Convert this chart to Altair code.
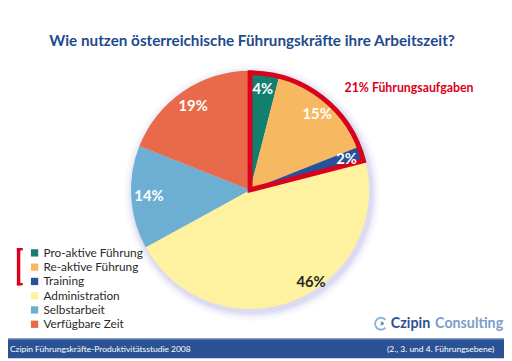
import math
import altair as alt
import pandas as pd

categories = ["Pro-aktive Führung", "Re-aktive Führung", "Training",
              "Administration", "Selbstarbeit", "Verfügbare Zeit"]
values = [4, 15, 2, 46, 14, 19]
labels = ["4%", "15%", "2%", "46%", "14%", "19%"]
colors = ["#12806f", "#f7b862", "#27519b", "#fef2a0", "#6cafd2", "#e96a4b"]

group_name = ["Führungsaufgaben"]
group_value = [21]

title_text = "Wie nutzen österreichische Führungskräfte ihre Arbeitszeit?"
group_label = "21% Führungsaufgaben"
footer_left = "Czipin Führungskräfte-Produktivitätsstudie 2008"
footer_right = "(2., 3. und 4. Führungsebene)"

W, H = 504, 353
CX, CY = 246, 182
R = 121
FONT = "Lato"

df = pd.DataFrame({"cat": categories, "value": values, "label": labels,
                   "idx": list(range(len(categories)))})
gdf = pd.DataFrame({"grp": group_name, "value": group_value, "idx": [0]})
one = pd.DataFrame({"k": [0]})

theta = alt.Theta("value:Q", stack=True)
order = alt.Order("idx:O", sort="ascending")

base = alt.Chart(df)

# soft shadow
shadows = []
for rr, op in [(130, 0.06), (127, 0.08), (125, 0.1), (123, 0.14)]:
    shadows.append(
        alt.Chart(one).mark_arc(theta=0, theta2=2 * math.pi, outerRadius=rr,
                                color="#9d98d6", opacity=op)
        .encode(x=alt.value(CX + 2), y=alt.value(CY + 3))
    )

pie = base.mark_arc(outerRadius=R).encode(
    theta=theta,
    order=order,
    color=alt.Color("cat:N", scale=alt.Scale(domain=categories, range=colors),
                    legend=alt.Legend(orient="none", legendX=21, legendY=240,
                                      title=None, symbolType="square",
                                      symbolSize=55, symbolStrokeWidth=0,
                                      symbolOpacity=1,
                                      labelFont=FONT, labelFontSize=12,
                                      labelColor="#2a2a2a", rowPadding=2.5,
                                      labelOffset=3)),
    x=alt.value(CX), y=alt.value(CY),
)

outline = alt.Chart(gdf).mark_arc(outerRadius=R - 2, filled=False, fillOpacity=0,
                                  stroke="#d9021c", strokeWidth=5,
                                  strokeJoin="miter").encode(
    theta=theta, order=order, x=alt.value(CX), y=alt.value(CY)
)

txt_common = dict(font=FONT, fontSize=15, fontWeight="bold")


def pie_labels(cond, **kw):
    return (
        base.transform_stack(stack="value", groupby=[], as_=["v0", "v1"],
                             sort=[alt.SortField("idx", order="ascending")])
        .transform_calculate(mid="(datum.v0 + datum.v1) / 2")
        .transform_filter(cond)
        .mark_text(radius=103, **txt_common, **kw)
        .encode(theta=alt.Theta("mid:Q", scale=alt.Scale(domain=[0, 100])),
                text="label:N", x=alt.value(CX), y=alt.value(CY))
    )


txt = pie_labels("datum.idx != 3", color="white")
txt_big = pie_labels("datum.idx == 3", dx=24, dy=-2, color="#262626")


def label(text, x, y, size, color, weight="normal", align="center", font=FONT):
    return alt.Chart(one).mark_text(text=text, font=font, fontSize=size,
                                    fontWeight=weight, color=color, align=align,
                                    baseline="middle").encode(
        x=alt.value(x), y=alt.value(y))


title = label(title_text, 248, 31, 15.5, "#1f4a8e", "bold")
glabel = label(group_label, 342, 78, 12.5, "#d9021c", "bold", "left")

bracket = [
    alt.Chart(one).mark_rule(color="#d9021c", strokeWidth=3.5).encode(
        x=alt.value(10.75), y=alt.value(241), y2=alt.value(279)),
    alt.Chart(one).mark_rule(color="#d9021c", strokeWidth=2.5).encode(
        x=alt.value(9), x2=alt.value(15), y=alt.value(242.25)),
    alt.Chart(one).mark_rule(color="#d9021c", strokeWidth=2.5).encode(
        x=alt.value(9), x2=alt.value(15), y=alt.value(277.75)),
]

band = alt.Chart(one).mark_rect(color="#2b5294").encode(
    x=alt.value(-8), x2=alt.value(W), y=alt.value(333), y2=alt.value(H))
band_line = alt.Chart(one).mark_rule(color="#7f9bcb", strokeWidth=1).encode(
    x=alt.value(-8), x2=alt.value(W), y=alt.value(333.5))
fl = label(footer_left, 2, 343.5, 8.6, "white", align="left")
fr = label(footer_right, 494, 343.5, 8.6, "white", align="right")

logo_ring = alt.Chart(one).mark_arc(theta=2.3, theta2=2 * math.pi + 0.85,
                                    innerRadius=5, outerRadius=7,
                                    color="#8fb3d9").encode(
    x=alt.value(379), y=alt.value(318))
logo_arrow = label("»", 380, 317.5, 9, "#2b5294", "bold")
logo_a = label("Czipin", 389, 318, 14.5, "#2b5294", "bold", "left")
logo_b = label("Consulting", 434, 318, 14.5, "#7d9dc9", "bold", "left")

chart = alt.layer(
    *shadows, pie, outline, txt, txt_big,
    title, glabel, *bracket, band, band_line,
    fl, fr, logo_ring, logo_arrow, logo_a, logo_b
).properties(
    width=W, height=H, padding=0,
    autosize=alt.AutoSizeParams(type="none"),
    background="white",
).configure_view(strokeWidth=0)

chart.save("out.html", embed_options={"renderer": "svg", "actions": False})
